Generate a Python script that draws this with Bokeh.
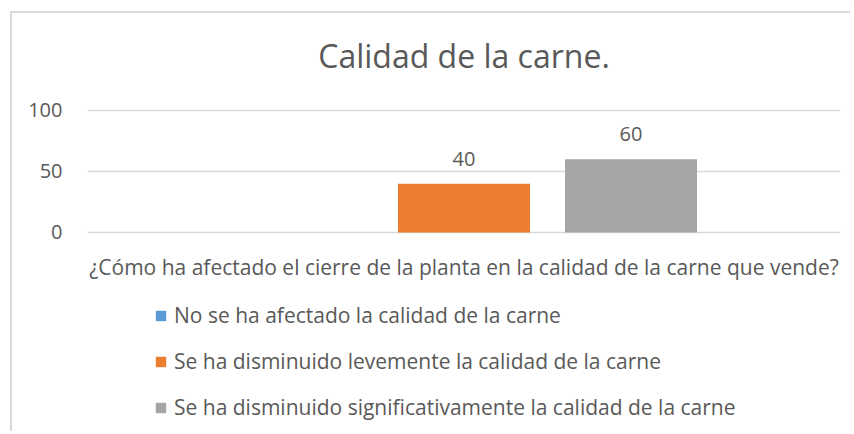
from bokeh.plotting import figure
from bokeh.models import FactorRange, Range1d, Legend, LegendItem, ColumnDataSource, LabelSet, Title
from bokeh.core.properties import value
from bokeh.transform import dodge
from bokeh.embed import file_html
from bokeh.resources import INLINE

title_text = "Calidad de la carne."
category = ["¿Cómo ha afectado el cierre de la planta en la calidad de la carne que vende?"]
series = [
    "No se ha afectado la calidad de la carne",
    "Se ha disminuido levemente la calidad de la carne",
    "Se ha disminuido significativamente la calidad de la carne",
]
values = [0, 40, 60]
colors = ["#5B9BD5", "#ED7D31", "#A5A5A5"]
y_ticks = [0, 50, 100]

FONT = "Open Sans"
TXT = "#595959"

# frame spans from just below the title down to the bottom of the canvas (legend lives inside)
p = figure(
    x_range=FactorRange(*category),
    y_range=Range1d(-164.75, 115.57),
    width=840, height=420,
    output_backend="svg", toolbar_location=None, x_axis_location=None,
    min_border_left=75, min_border_right=12, min_border_top=78, min_border_bottom=0,
)
p.styles = {"border-left": "2px solid #d9d9d9", "border-top": "2px solid #d9d9d9",
            "margin-left": "10px", "margin-top": "11px"}
p.outline_line_color = None
p.title = Title(text=title_text, align="center", text_font=FONT, text_font_size="32px",
                text_color=TXT, text_font_style="normal", standoff=30)

offsets = [-0.2218, 0.0, 0.2218]
bar_w = 0.1753
items = []
for name, val, col, off in zip(series, values, colors, offsets):
    src = ColumnDataSource(dict(x=category, top=[val], lbl=[str(val) if val else ""]))
    r = p.vbar(x=dodge("x", off, range=p.x_range), top="top", width=bar_w, source=src,
               fill_color=col, line_color=None)
    items.append(LegendItem(label=name, renderers=[r]))
    p.add_layout(LabelSet(x=dodge("x", off, range=p.x_range), y="top", text="lbl", source=src,
                          text_align="center", text_baseline="bottom", y_offset=18,
                          text_font=value(FONT), text_font_size="20px", text_color=TXT))

# category (x-axis) label under the 0 baseline
cat_src = ColumnDataSource(dict(x=category, y=[0], lbl=category))
p.add_layout(LabelSet(x="x", y="y", text="lbl", source=cat_src, text_align="center",
                      text_baseline="middle", y_offset=-35,
                      text_font=value(FONT), text_font_size="21px", text_color=TXT))

p.xgrid.grid_line_color = None
p.ygrid.ticker = y_ticks
p.ygrid.grid_line_color = "#d9d9d9"
p.ygrid.grid_line_width = 1.5
p.yaxis.ticker = y_ticks
p.yaxis.axis_line_color = None
p.yaxis.major_tick_line_color = None
p.yaxis.minor_tick_line_color = None
p.yaxis.major_label_standoff = 19
p.yaxis.major_label_text_font = FONT
p.yaxis.major_label_text_font_size = "20px"
p.yaxis.major_label_text_color = TXT

legend = Legend(items=items, orientation="vertical", location=(67, 12),
                glyph_width=13, glyph_height=13, label_standoff=7, label_height=20,
                spacing=18, padding=0, margin=0,
                label_text_font=FONT, label_text_font_size="21px", label_text_color=TXT,
                border_line_color=None, background_fill_alpha=0)
p.add_layout(legend)

open("out.html", "w").write(file_html(p, INLINE))
